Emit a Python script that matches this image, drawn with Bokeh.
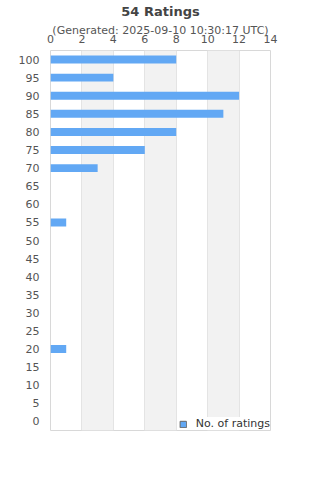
from bokeh.plotting import figure
from bokeh.models import (FactorRange, Range1d, FixedTicker, LinearAxis, Title,
                          Legend, LegendItem, ColumnDataSource, CategoricalAxis)
from bokeh.embed import file_html
from bokeh.resources import INLINE

# ---- data ----
categories = [str(v) for v in range(0, 101, 5)]
rating_labels = ["100", "95", "90", "85", "80", "75", "70", "55", "20"]
rating_counts = [8, 4, 12, 11, 8, 6, 3, 1, 1]
x_ticks = [0, 2, 4, 6, 8, 10, 12, 14]
title_text = "54 Ratings"
subtitle_text = "(Generated: 2025-09-10 10:30:17 UTC)"
legend_label = "No. of ratings"

FONT = "DejaVu Sans"
BAR_COLOR = "#62a8f4"

p = figure(width=320, height=480, output_backend="svg", toolbar_location=None,
           y_range=FactorRange(factors=categories, range_padding=0),
           x_range=Range1d(0, 14), x_axis_location=None, y_axis_location=None,
           min_border_left=50, min_border_right=50, min_border_top=50,
           min_border_bottom=50)
p.background_fill_color = "white"
p.border_fill_color = "white"
p.outline_line_color = "#d8d8d8"

# x axis on top, subtitle as its axis label (overlapping like the reference)
xax = LinearAxis(ticker=FixedTicker(ticks=x_ticks))
xax.axis_line_color = None
xax.major_tick_line_color = None
xax.minor_tick_line_color = None
xax.major_tick_out = 0
xax.major_label_standoff = 8
xax.major_label_text_font = FONT
xax.major_label_text_font_size = "11px"
xax.major_label_text_color = "#555555"
xax.axis_label = subtitle_text
xax.axis_label_standoff = -5
xax.axis_label_text_font = FONT
xax.axis_label_text_font_size = "11px"
xax.axis_label_text_font_style = "normal"
xax.axis_label_text_color = "#555555"
p.add_layout(xax, "above")

yax = CategoricalAxis()
yax.axis_line_color = None
yax.major_tick_line_color = None
yax.major_tick_out = 0
yax.major_label_standoff = 11
yax.major_label_text_font = FONT
yax.major_label_text_font_size = "11px"
yax.major_label_text_color = "#555555"
p.add_layout(yax, "left")

p.add_layout(Title(text=title_text, align="center", text_font=FONT,
                   text_font_size="13px", text_font_style="bold",
                   text_color="#444444", standoff=3), "above")

# grid
p.xgrid.ticker = FixedTicker(ticks=x_ticks)
p.xgrid.grid_line_color = "#e4e4e4"
p.xgrid.band_fill_color = "#f2f2f2"
p.xgrid.band_fill_alpha = 1.0
p.ygrid.grid_line_color = None

# bars
src = ColumnDataSource(dict(y=rating_labels, right=rating_counts))
p.hbar(y="y", left=0, right="right", height=0.44, source=src,
       fill_color=BAR_COLOR, line_color=None)

# legend swatch (hidden renderer, only shown in legend)
dummy = p.hbar(y=["0"], left=[0], right=[0], height=0.4,
               fill_color=BAR_COLOR, line_color="#666666", line_width=1)
dummy.visible = False
legend = Legend(items=[LegendItem(label=legend_label, renderers=[dummy])],
                location="bottom_right", orientation="vertical",
                glyph_width=8, glyph_height=8, label_standoff=9,
                padding=4, margin=0, spacing=0, click_policy="none",
                label_text_font=FONT, label_text_font_size="11px",
                label_text_color="#333333",
                border_line_color=None, background_fill_color="white",
                background_fill_alpha=1.0)
p.add_layout(legend, "center")

open("out.html", "w").write(file_html(p, INLINE))
